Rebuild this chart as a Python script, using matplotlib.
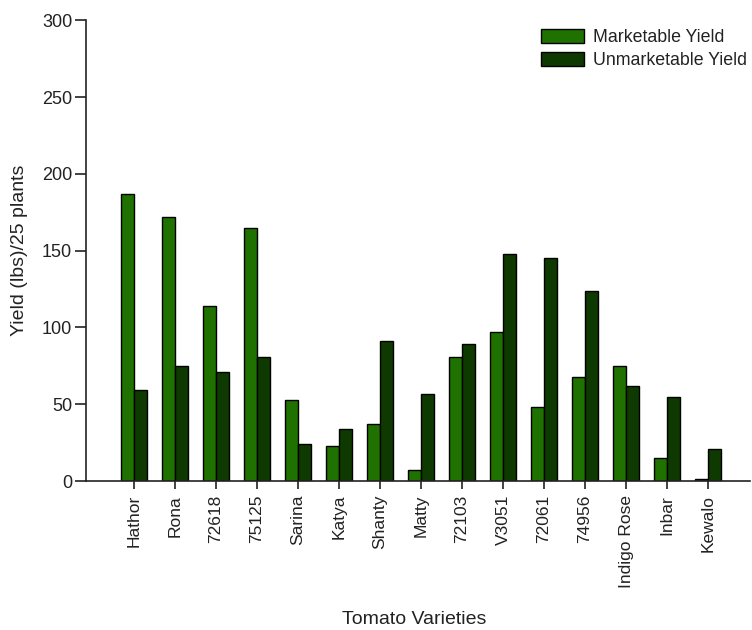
import matplotlib
matplotlib.use("Agg")
import matplotlib.pyplot as plt
import numpy as np

varieties = ["Hathor", "Rona", "72618", "75125", "Sarina", "Katya", "Shanty", "Matty",
             "72103", "V3051", "72061", "74956", "Indigo Rose", "Inbar", "Kewalo"]
marketable = [187, 172, 114, 165, 53, 23, 37, 7, 81, 97, 48, 68, 75, 15, 1.5]
unmarketable = [59, 75, 71, 81, 24, 34, 91, 57, 89, 148, 145, 124, 62, 55, 21]
yticks = [0, 50, 100, 150, 200, 250, 300]

plt.rcParams['font.family'] = ['Liberation Sans', 'DejaVu Sans']

fig = plt.figure(figsize=(7.52, 6.30), dpi=100)
ax = fig.add_axes([0.1144, 0.2365, 0.9973 - 0.1144, 0.9675 - 0.2365])

x = np.arange(len(varieties))
w = 0.317
green = "#1f7200"
dark = "#0e3a02"
ax.bar(x - w / 2, marketable, w, color=green, edgecolor="black", linewidth=1.0,
       label="Marketable Yield")
ax.bar(x + w / 2, unmarketable, w, color=dark, edgecolor="black", linewidth=1.0,
       label="Unmarketable Yield")

ax.set_xlim(-1.17, 15.02)
ax.set_ylim(0, 300)
ax.set_yticks(yticks)
ax.set_xticks(x)
ax.set_xticklabels(varieties, rotation=90, fontsize=12.5)
ax.tick_params(axis='y', labelsize=13, length=8, width=1.2, pad=2, colors="#222222")
ax.tick_params(axis='x', length=6, width=1.2, pad=4, colors="#222222")
for s in ["top", "right"]:
    ax.spines[s].set_visible(False)
for s in ["left", "bottom"]:
    ax.spines[s].set_linewidth(1.2)
    ax.spines[s].set_color("#222222")

ax.set_ylabel("Yield (lbs)/25 plants", fontsize=14, color="#222222")
ax.yaxis.set_label_coords(-0.087, 0.5)
fig.text(0.551, 0.003, "Tomato Varieties", ha="center", va="bottom", fontsize=14,
         color="#222222")

leg = ax.legend(loc="upper left", bbox_to_anchor=(541 / 752, 1 - 29 / 630),
                bbox_transform=fig.transFigure, frameon=False, fontsize=12.8,
                handlelength=2.4, handleheight=0.85, handletextpad=0.55,
                labelspacing=0.3, borderpad=0, borderaxespad=0)
for t in leg.get_texts():
    t.set_color("#222222")

fig.savefig("out.png", dpi=100)
